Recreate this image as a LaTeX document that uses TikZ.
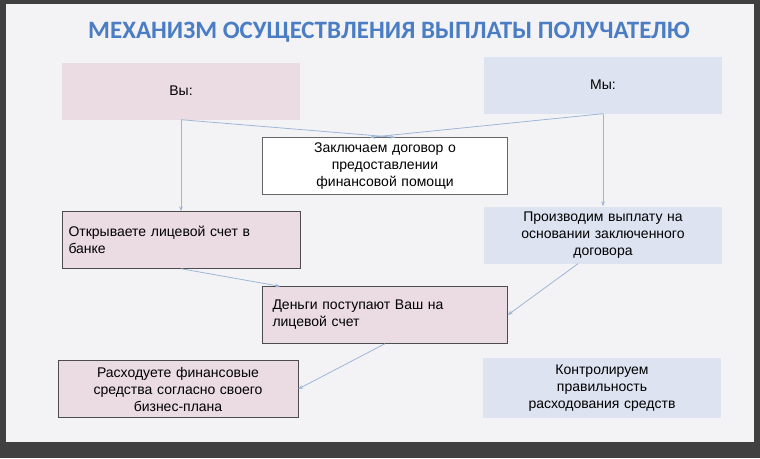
\documentclass[tikz,border=0pt]{standalone}
\usepackage{fontspec}
\setmainfont{Liberation Sans}
\newfontfamily\titlefont{Carlito}
\usetikzlibrary{arrows.meta}
\definecolor{pinkbox}{HTML}{EADCE2}
\definecolor{bluebox}{HTML}{DDE3F0}
\definecolor{slide}{HTML}{F3F3F5}
\definecolor{titleblue}{HTML}{4A7DC4}
\definecolor{linkblue}{HTML}{9DB6D8}
\begin{document}
\begin{tikzpicture}[x=1pt,y=-1pt]
\tikzstyle{box}=[
	rectangle,
	minimum width=238pt,
	minimum height=57pt,
	text width=225pt,
	align=left,
	font=\fontsize{14}{17}\selectfont ]
\tikzstyle{we}=[box, fill=bluebox, align=center]
\tikzstyle{you}=[box, fill=pinkbox, draw=black!70]
\tikzstyle{link}=[draw=linkblue, line width=0.8pt, -{Stealth[length=5pt]}]
\fill[black!75] (0,0) rectangle (760,458);
\fill[slide] (6,4) rectangle (754,442);
\node (title) at (389,32) {\titlefont\bfseries\fontsize{25}{30}\selectfont\color{titleblue}МЕХАНИЗМ ОСУЩЕСТВЛЕНИЯ ВЫПЛАТЫ ПОЛУЧАТЕЛЮ};
\node[box, fill=pinkbox, align=center] (you) at (181,91) {Вы:};
\node[we] (we) at (603,85) {Мы:};
\node[box, fill=white, draw=black!60, minimum width=245pt, align=center] (contract) at (385,166) {Заключаем договор о\\ предоставлении\\ финансовой помощи};
\node[you] (account) at (181,240) {Открываете лицевой счет в\\ банке};
\node[we] (payment) at (603,235) {Производим выплату на\\ основании заключенного\\ договора};
\node[you, minimum width=245pt] (money) at (385,315) {Деньги поступают Ваш на\\ лицевой счет};
\node[you, minimum width=240pt, align=center] (spend) at (178,389) {Расходуете финансовые\\ средства согласно своего\\ бизнес-плана};
\node[we, minimum height=60pt] (control) at (602,388) {Контролируем\\ правильность\\ расходования средств};
\draw[link] (you.south) -- (account.north);
\draw[link] (we.south) -- (payment.north);
\draw[link] (you.south) -- ([xshift=10pt]contract.north);
\draw[link] (we.south) -- ([xshift=-15pt]contract.north);
\draw[link] (account.south) -- ([xshift=-105pt]money.north);
\draw[link] ([xshift=-25pt]payment.south) -- (money.east);
\draw[link] (money.south) -- (spend.east);
\end{tikzpicture}
\end{document}
